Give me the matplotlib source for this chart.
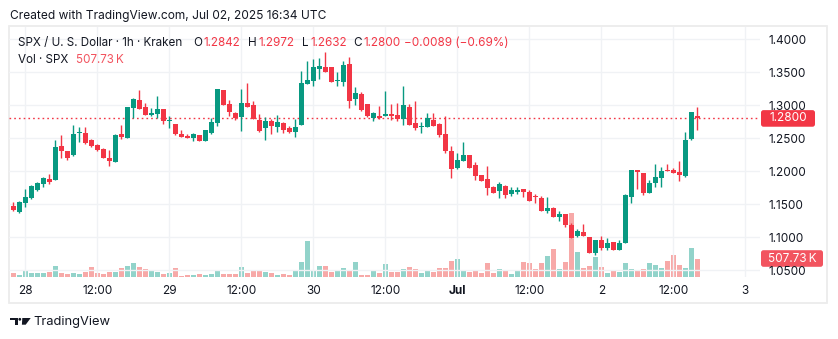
import numpy as np
import matplotlib.pyplot as plt
from matplotlib.patches import FancyBboxPatch, Rectangle, Circle, Polygon
from matplotlib.transforms import IdentityTransform

# SPX / USD hourly candles, Jun 27 22:00 -> Jul 2 16:00 UTC (Kraken)
opens = [1.1475, 1.1379, 1.1521, 1.1596, 1.1718, 1.1809, 1.1875, 1.1870, 1.2381, 1.2305,
         1.2244, 1.2573, 1.2573, 1.2472, 1.2396, 1.2335, 1.2199, 1.2143, 1.2558, 1.2507,
         1.2963, 1.3079, 1.2973, 1.2856, 1.2866, 1.2937, 1.2755, 1.2715, 1.2563, 1.2538,
         1.2507, 1.2548, 1.2462, 1.2583, 1.2735, 1.3231, 1.3018, 1.2882, 1.2826, 1.3033,
         1.3003, 1.2775, 1.2659, 1.2765, 1.2669, 1.2725, 1.2654, 1.2598, 1.2705, 1.3327,
         1.3367, 1.3555, 1.3580, 1.3580, 1.3373, 1.3357, 1.3625, 1.3094, 1.3170, 1.3018,
         1.2801, 1.2836, 1.2841, 1.2872, 1.2851, 1.2796, 1.2973, 1.2730, 1.2674, 1.2674,
         1.2775, 1.2715, 1.2563, 1.2305, 1.2052, 1.2158, 1.2244, 1.2092, 1.1941, 1.1880,
         1.1763, 1.1698, 1.1774, 1.1657, 1.1688, 1.1723, 1.1682, 1.1617, 1.1596, 1.1399,
         1.1440, 1.1309, 1.1349, 1.1187, 1.1009, 1.1075, 1.0999, 1.0762, 1.0949, 1.0838,
         1.0923, 1.0807, 1.0913, 1.1612, 1.2017, 1.1971, 1.1672, 1.1824, 1.1900, 1.2022,
         1.2011, 1.1986, 1.1925, 1.2492, 1.2842]
highs = [1.1531, 1.1546, 1.1723, 1.1789, 1.1829, 1.1910, 1.1956, 1.2472, 1.2548, 1.2310,
         1.2700, 1.2674, 1.2664, 1.2482, 1.2406, 1.2350, 1.2320, 1.2563, 1.2700, 1.2978,
         1.3114, 1.3231, 1.3033, 1.2953, 1.3140, 1.2942, 1.2836, 1.2720, 1.2624, 1.2563,
         1.2573, 1.2553, 1.2629, 1.2801, 1.3251, 1.3236, 1.3079, 1.2902, 1.3246, 1.3337,
         1.3064, 1.2867, 1.2821, 1.2791, 1.2851, 1.2750, 1.2679, 1.2796, 1.3519, 1.3671,
         1.3701, 1.3722, 1.3808, 1.3585, 1.3504, 1.3671, 1.3732, 1.3276, 1.3200, 1.3023,
         1.2897, 1.2988, 1.3216, 1.3018, 1.3033, 1.3297, 1.3018, 1.3064, 1.2745, 1.2882,
         1.2882, 1.2730, 1.2836, 1.2376, 1.2275, 1.2442, 1.2249, 1.2138, 1.1946, 1.2077,
         1.1774, 1.1834, 1.1789, 1.1758, 1.1758, 1.1728, 1.1713, 1.1657, 1.1622, 1.1607,
         1.1460, 1.1399, 1.1354, 1.1207, 1.1121, 1.1197, 1.1004, 1.0954, 1.1015, 1.0989,
         1.0928, 1.0949, 1.1647, 1.2022, 1.2022, 1.1976, 1.1865, 1.2108, 1.2062, 1.2108,
         1.2047, 1.2153, 1.2593, 1.2902, 1.2972]
lows = [1.1394, 1.1364, 1.1460, 1.1581, 1.1693, 1.1763, 1.1799, 1.1865, 1.2204, 1.2168,
        1.2229, 1.2447, 1.2411, 1.2366, 1.2305, 1.2194, 1.2082, 1.2138, 1.2487, 1.2497,
        1.2801, 1.2937, 1.2846, 1.2841, 1.2801, 1.2710, 1.2659, 1.2553, 1.2512, 1.2497,
        1.2462, 1.2457, 1.2457, 1.2568, 1.2689, 1.3003, 1.2841, 1.2780, 1.2608, 1.2968,
        1.2791, 1.2598, 1.2477, 1.2568, 1.2593, 1.2578, 1.2583, 1.2517, 1.2700, 1.3322,
        1.3292, 1.3398, 1.3504, 1.3347, 1.3292, 1.3292, 1.2963, 1.3003, 1.2917, 1.2826,
        1.2765, 1.2796, 1.2836, 1.2780, 1.2760, 1.2705, 1.2700, 1.2629, 1.2583, 1.2669,
        1.2684, 1.2522, 1.2280, 1.1895, 1.2032, 1.2153, 1.2047, 1.1865, 1.1849, 1.1642,
        1.1662, 1.1596, 1.1596, 1.1627, 1.1657, 1.1612, 1.1546, 1.1521, 1.1394, 1.1369,
        1.1303, 1.1248, 1.1151, 1.0984, 1.0999, 1.1009, 1.0757, 1.0731, 1.0807, 1.0797,
        1.0802, 1.0802, 1.0903, 1.1521, 1.1733, 1.1642, 1.1667, 1.1763, 1.1763, 1.2001,
        1.1971, 1.1849, 1.1915, 1.2477, 1.2632]
closes = [1.1409, 1.1531, 1.1607, 1.1779, 1.1819, 1.1895, 1.1839, 1.2366, 1.2310, 1.2199,
          1.2563, 1.2588, 1.2431, 1.2386, 1.2315, 1.2204, 1.2153, 1.2548, 1.2522, 1.2973,
          1.3094, 1.2947, 1.2856, 1.2882, 1.2937, 1.2765, 1.2765, 1.2568, 1.2522, 1.2507,
          1.2563, 1.2462, 1.2624, 1.2745, 1.3246, 1.3008, 1.2897, 1.2801, 1.3033, 1.2978,
          1.2796, 1.2614, 1.2760, 1.2689, 1.2745, 1.2624, 1.2593, 1.2669, 1.3337, 1.3383,
          1.3580, 1.3600, 1.3504, 1.3352, 1.3383, 1.3610, 1.3069, 1.3185, 1.2932, 1.2841,
          1.2882, 1.2806, 1.2872, 1.2841, 1.2796, 1.3003, 1.2705, 1.2659, 1.2684, 1.2801,
          1.2689, 1.2553, 1.2310, 1.2037, 1.2168, 1.2244, 1.2052, 1.1930, 1.1854, 1.1748,
          1.1672, 1.1799, 1.1642, 1.1713, 1.1713, 1.1688, 1.1551, 1.1602, 1.1399, 1.1440,
          1.1309, 1.1349, 1.1182, 1.0989, 1.1090, 1.1020, 1.0762, 1.0949, 1.0838, 1.0913,
          1.0807, 1.0913, 1.1637, 1.2017, 1.1991, 1.1672, 1.1815, 1.1910, 1.2001, 1.2006,
          1.1976, 1.1946, 1.2472, 1.2897, 1.2800]
# volume, thousands of SPX
volumes = [113, 56, 197, 113, 113, 113, 150, 310, 113, 85,
           113, 85, 150, 282, 113, 85, 150, 150, 254, 310,
           395, 282, 226, 169, 141, 85, 113, 254, 28, 56,
           56, 85, 56, 85, 169, 85, 85, 85, 282, 113,
           197, 169, 141, 113, 56, 85, 56, 169, 423, 987,
           197, 310, 310, 141, 197, 254, 197, 423, 56, 56,
           169, 113, 367, 141, 141, 226, 282, 226, 113, 169,
           141, 254, 254, 451, 507, 197, 141, 169, 113, 395,
           113, 226, 169, 85, 169, 423, 395, 226, 395, 564,
           761, 226, 423, 1749, 677, 254, 310, 536, 282, 113,
           197, 141, 395, 226, 197, 226, 395, 338, 254, 451,
           592, 338, 254, 790, 507.73]

tick_pos = [2, 14, 26, 38, 50, 62, 74, 86, 98, 110, 122]
tick_labels = ['28', '12:00', '29', '12:00', '30', '12:00', 'Jul', '12:00', '2', '12:00', '3']
price_ticks = [1.05, 1.10, 1.15, 1.20, 1.25, 1.30, 1.35, 1.40]
last_price = 1.2800
last_volume = 507.73

UP, DOWN = '#089981', '#f23645'
UP_VOL, DOWN_VOL = '#92d3ca', '#f7a9a8'
TXT = '#131722'
plt.rcParams['font.family'] = ['Inter', 'DejaVu Sans']

o = np.array(opens); h = np.array(highs); l = np.array(lows); c = np.array(closes)
v = np.array(volumes)
x = np.arange(len(o))
up = c >= o

W, H = 838, 339
fig = plt.figure(figsize=(W / 100, H / 100), dpi=100)
fig.patch.set_facecolor('white')


def fx(px):
    return px / W


def fy(py):
    return 1 - py / H


ax = fig.add_axes([fx(9), fy(277), fx(760) - fx(9), fy(27) - fy(277)])
vax = ax.twinx()
ax.set_zorder(vax.get_zorder() + 1)
ax.patch.set_visible(False)

# volume pane
vax.bar(x, v, width=0.8, color=np.where(up, UP_VOL, DOWN_VOL), linewidth=0)
vax.set_ylim(0, last_volume * 250 / 18.5)
vax.set_yticks([])
for s in vax.spines.values():
    s.set_visible(False)

# candles
colors = np.where(up, UP, DOWN)
ax.vlines(x, l, h, colors=colors, linewidth=1.0, zorder=3)
body = np.maximum(np.abs(c - o), 0.0016)
ax.bar(x, body, bottom=np.minimum(o, c), width=0.8, color=colors, linewidth=0, zorder=4)

ax.axhline(last_price, color=DOWN, linestyle=(0, (1.2, 2.2)), linewidth=1.0, zorder=2)

ax.set_xlim(-0.72, 124.45)
ax.set_ylim(1.03938, 1.41874)
ax.set_yticks(price_ticks)
ax.set_yticklabels([f'{p:.4f}' for p in price_ticks])
ax.yaxis.tick_right()
ax.set_xticks(tick_pos)
ax.set_xticklabels(tick_labels)
ax.get_xticklabels()[6].set_fontweight('bold')
ax.tick_params(axis='both', length=0, labelsize=8.5, colors=TXT)
ax.tick_params(axis='y', pad=6)
ax.tick_params(axis='x', pad=6)
ax.grid(True, color='#f0f2f5', linewidth=1.0, zorder=0)
for s in ax.spines.values():
    s.set_visible(False)

# outer frame
fig.add_artist(Rectangle((fx(9), fy(303)), fx(827) - fx(9), fy(26) - fy(303),
                         transform=fig.transFigure, fill=False,
                         edgecolor='#ececec', linewidth=1.3))

# value badges on the price scale
fig.canvas.draw()
py = ax.transData.transform((0, last_price))[1]
vy = vax.transData.transform((0, last_volume))[1]
for yc, txt, col, x1 in [(py, '1.2800', DOWN, 815), (vy, '507.73\u2009K', '#f2545f', 823)]:
    fig.add_artist(FancyBboxPatch((761, yc - 8.3), x1 - 761, 16.6,
                                  boxstyle='round,pad=0,rounding_size=2.5',
                                  transform=IdentityTransform(),
                                  facecolor=col, edgecolor='none'))
    fig.text(fx((761 + x1) / 2), yc / H, txt, color='white', fontsize=8.5,
             ha='center', va='center')

# header texts
fig.text(fx(10), fy(16), 'Created with TradingView.com, Jul 02, 2025 16:34 UTC',
         color=TXT, fontsize=8.6, va='center')
legend = [(18, 'SPX / U. S. Dollar \u00b7 1h \u00b7 Kraken', TXT),
          (193, 'O', TXT), (203, '1.2842', DOWN),
          (248, 'H', TXT), (258, '1.2972', DOWN),
          (302, 'L', TXT), (310, '1.2632', DOWN),
          (353, 'C', TXT), (363, '1.2800', DOWN),
          (404, '\u22120.0089 (\u22120.69%)', DOWN)]
for px, s, col in legend:
    fig.text(fx(px), fy(43), s, color=col, fontsize=8.4, va='center')
fig.text(fx(18), fy(60), 'Vol \u00b7 SPX', color=TXT, fontsize=8.4, va='center')
fig.text(fx(76), fy(60), '507.73\u2009K', color='#f2545f', fontsize=8.4, va='center')

# footer logo
logo = [Rectangle((10, H - 320.3), 7.7, 2.3),
        Rectangle((15, H - 324.7), 2.7, 6.7),
        Circle((19.8, H - 319.3), 1.4),
        Polygon([(22.3, H - 318), (30.7, H - 318), (25.7, H - 324.7), (21.9, H - 324.7)])]
for p in logo:
    p.set_transform(IdentityTransform())
    p.set_facecolor(TXT)
    p.set_edgecolor('none')
    fig.add_artist(p)
fig.text(fx(33.5), fy(322), 'TradingView', color=TXT, fontsize=9.3, va='center')

fig.savefig('out.png', dpi=100)
